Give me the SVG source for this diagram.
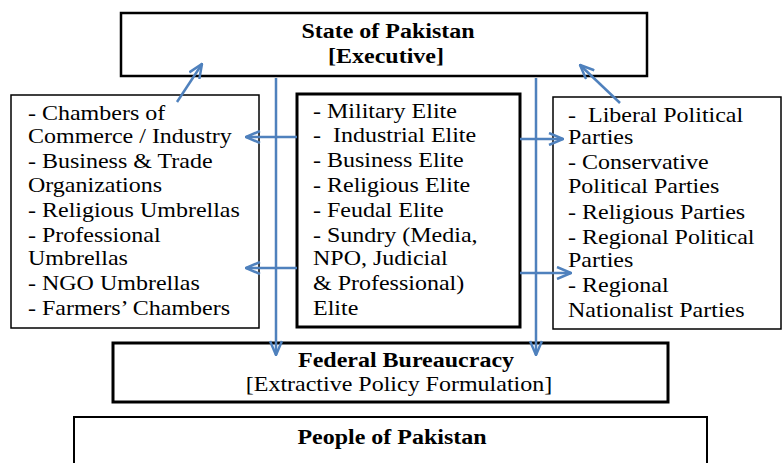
<svg xmlns="http://www.w3.org/2000/svg" width="783" height="463" viewBox="0 0 783 463">
<defs>
<style>
.box{fill:#fff;stroke:#000}
.t{font-family:"Liberation Serif","Times New Roman",serif;font-size:24px;fill:#000}
.b{font-weight:bold;text-anchor:middle}
.c{text-anchor:middle}
.con{fill:none;stroke:#4F81BD;stroke-width:2.5}
</style>
<marker id="ah" viewBox="0 0 16 14" refX="15" refY="7" markerWidth="16" markerHeight="14" markerUnits="userSpaceOnUse" orient="auto">
<path d="M1,1 L15,7 L1,13" fill="none" stroke="#4F81BD" stroke-width="2.5"/>
</marker>
</defs>
<rect width="783" height="463" fill="#fff"/>
<g id="state">
<rect class="box" x="121" y="13" width="526" height="63" stroke-width="2.5"/>
<text class="t b" transform="translate(388,38) scale(1,0.89)">State of Pakistan</text>
<text class="t b" transform="translate(386,63) scale(1,0.89)">[Executive]</text>
</g>
<g id="chambers">
<rect class="box" x="11" y="95" width="248" height="233" stroke-width="1.5"/>
<text class="t" transform="translate(28,120) scale(1,0.89)">- Chambers of</text>
<text class="t" transform="translate(28,143) scale(1,0.89)">Commerce / Industry</text>
<text class="t" transform="translate(28,168) scale(1,0.89)">- Business &amp; Trade</text>
<text class="t" transform="translate(28,192) scale(1,0.89)">Organizations</text>
<text class="t" transform="translate(28,217) scale(1,0.89)">- Religious Umbrellas</text>
<text class="t" transform="translate(28,242) scale(1,0.89)">- Professional</text>
<text class="t" transform="translate(28,265) scale(1,0.89)">Umbrellas</text>
<text class="t" transform="translate(28,290) scale(1,0.89)">- NGO Umbrellas</text>
<text class="t" transform="translate(28,315) scale(1,0.89)">- Farmers’ Chambers</text>
</g>
<g id="elite">
<rect class="box" x="297" y="94" width="223" height="233" stroke-width="3"/>
<text class="t" transform="translate(313,118) scale(1,0.89)">- Military Elite</text>
<text class="t" transform="translate(313,142) scale(1,0.89)">-&#160; Industrial Elite</text>
<text class="t" transform="translate(313,167) scale(1,0.89)">- Business Elite</text>
<text class="t" transform="translate(313,192) scale(1,0.89)">- Religious Elite</text>
<text class="t" transform="translate(313,217) scale(1,0.89)">- Feudal Elite</text>
<text class="t" transform="translate(313,242) scale(1,0.89)">- Sundry (Media,</text>
<text class="t" transform="translate(313,265) scale(1,0.89)">NPO, Judicial</text>
<text class="t" transform="translate(313,290) scale(1,0.89)">&amp; Professional)</text>
<text class="t" transform="translate(313,315) scale(1,0.89)">Elite</text>
</g>
<g id="parties">
<rect class="box" x="553" y="97" width="228" height="232" stroke-width="1.5"/>
<text class="t" transform="translate(568,122) scale(1,0.89)">-&#160; Liberal Political</text>
<text class="t" transform="translate(568,144) scale(1,0.89)">Parties</text>
<text class="t" transform="translate(568,169) scale(1,0.89)">- Conservative</text>
<text class="t" transform="translate(568,193) scale(1,0.89)">Political Parties</text>
<text class="t" transform="translate(568,219) scale(1,0.89)">- Religious Parties</text>
<text class="t" transform="translate(568,244) scale(1,0.89)">- Regional Political</text>
<text class="t" transform="translate(568,267) scale(1,0.89)">Parties</text>
<text class="t" transform="translate(568,292) scale(1,0.89)">- Regional</text>
<text class="t" transform="translate(568,317) scale(1,0.89)">Nationalist Parties</text>
</g>
<g id="bureaucracy">
<rect class="box" x="113" y="343" width="555" height="59" stroke-width="3"/>
<text class="t b" transform="translate(406,367) scale(1,0.89)">Federal Bureaucracy</text>
<text class="t c" transform="translate(399,391) scale(1,0.89)">[Extractive Policy Formulation]</text>
</g>
<g id="people">
<rect class="box" x="74" y="417" width="633" height="60" stroke-width="2"/>
<text class="t b" transform="translate(392,444) scale(1,0.89)">People of Pakistan</text>
</g>
<g id="connectors">
<line class="con" x1="276" y1="78" x2="276" y2="355" marker-end="url(#ah)"/>
<line class="con" x1="536" y1="78" x2="536" y2="355" marker-end="url(#ah)"/>
<line class="con" x1="297" y1="137" x2="246" y2="137" marker-end="url(#ah)"/>
<line class="con" x1="297" y1="268" x2="246" y2="268" marker-end="url(#ah)"/>
<line class="con" x1="520" y1="139" x2="563" y2="139" marker-end="url(#ah)"/>
<line class="con" x1="520" y1="273" x2="571" y2="273" marker-end="url(#ah)"/>
<line class="con" x1="177" y1="102" x2="202" y2="64" marker-end="url(#ah)"/>
<line class="con" x1="620" y1="103" x2="580" y2="65" marker-end="url(#ah)"/>
</g>
</svg>
